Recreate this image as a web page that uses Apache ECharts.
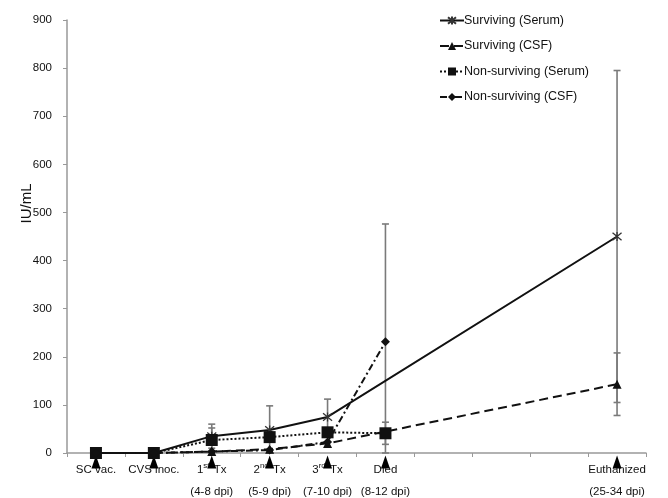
<!DOCTYPE html>
<html>
<head>
<meta charset="utf-8">
<script src="https://cdn.jsdelivr.net/npm/echarts@6/dist/echarts.min.js"></script>
<style>html,body{margin:0;padding:0;background:#fff}#c{width:668px;height:498px}</style>
</head>
<body>
<div id="c"></div>
<script>
// Category labels (rich-text markup for superscripts)
var categories = ['SC vac.', 'CVS inoc.', '1{sup|st} Tx\n(4-8 dpi)', '2{sup|nd} Tx\n(5-9 dpi)', '3{sup|rd} Tx\n(7-10 dpi)', 'Died\n(8-12 dpi)', ' ', '  ', '   ', 'Euthanized\n(25-34 dpi)'];
var yTicks = [0, 100, 200, 300, 400, 500, 600, 700, 800, 900];

var survSerum    = [0, 0, 35, 48, 75, null, null, null, null, 450];
var survSerumErr = [0, 0, 25, 50, 37, 0, 0, 0, 0, 345];
var survCSF      = [0, 0, 3, 8, 20, null, null, null, null, 143];
var survCSFErr   = [0, 0, 0, 0, 0, 0, 0, 0, 0, 65];
var nonSerum     = [0, 0, 27, 33, 43, 41, null, null, null, null];
var nonSerumErr  = [0, 0, 25, 0, 0, 23, 0, 0, 0, 0];
var nonCSF       = [0, 0, 3, 6, 23, 231, null, null, null, null];
var nonCSFErr    = [0, 0, 0, 0, 0, 245, 0, 0, 0, 0];
var events       = [0, 0, 0, 0, 0, 0, null, null, null, 0];

var seriesNames = ['Surviving (Serum)', 'Surviving (CSF)', 'Non-surviving (Serum)', 'Non-surviving (CSF)'];

function errData(vals, errs) {
  var out = [];
  for (var i = 0; i < vals.length; i++) {
    if (vals[i] != null && errs[i] > 0) out.push([i, Math.max(0, vals[i] - errs[i]), vals[i] + errs[i]]);
  }
  return out;
}
var allErr = [].concat(errData(survSerum, survSerumErr), errData(survCSF, survCSFErr),
                       errData(nonSerum, nonSerumErr), errData(nonCSF, nonCSFErr));

var chart = echarts.init(document.getElementById('c'), null, {renderer: 'canvas'});
var black = '#111';
var starPath = 'path://M0,0L10,10M10,0L0,10M5,-1L5,11';

chart.setOption({
  animation: false,
  textStyle: {fontFamily: 'Liberation Sans, Arial, sans-serif'},
  grid: {left: 67, right: 22, top: 20, bottom: 45, outerBoundsMode: 'none', containLabel: false},
  legend: {
    orient: 'vertical', left: 434, top: 9, itemGap: 12.5, itemWidth: 24, itemHeight: 10,
    textStyle: {fontSize: 12.5, color: '#111', padding: [0, 0, 0, -5]},
    data: seriesNames
  },
  xAxis: {
    type: 'category', data: categories, boundaryGap: true,
    axisLine: {lineStyle: {color: '#999', width: 1.5}},
    axisTick: {show: true, length: 4, inside: false, lineStyle: {color: '#999'}},
    axisLabel: {
      interval: 0, margin: 6, fontSize: 11.5, color: '#111', lineHeight: 22,
      rich: {sup: {fontSize: 8, lineHeight: 10, verticalAlign: 'top', padding: [3, 1, 0, 0]}}
    }
  },
  yAxis: {
    type: 'value', min: yTicks[0], max: yTicks[yTicks.length - 1], interval: 100,
    name: 'IU/mL', nameLocation: 'middle', nameGap: 33, nameRotate: 90, nameMoveOverlap: false,
    nameTextStyle: {fontSize: 15, color: '#111', padding: [0, 0, 0, 66]},
    splitLine: {show: false},
    axisLine: {show: true, lineStyle: {color: '#999', width: 1.5}},
    axisTick: {show: true, length: 4, lineStyle: {color: '#999'}},
    axisLabel: {fontSize: 11.5, color: '#111', margin: 15}
  },
  series: [
    {
      type: 'custom', name: 'err', z: 1, silent: true,
      encode: {x: 0, y: [1, 2]},
      data: allErr,
      renderItem: function (params, api) {
        var x = api.value(0);
        var lo = api.coord([x, api.value(1)]);
        var hi = api.coord([x, api.value(2)]);
        var w = 3.5;
        var st = {stroke: '#7a7a7a', lineWidth: 1.6};
        return {type: 'group', children: [
          {type: 'line', shape: {x1: lo[0], y1: lo[1], x2: hi[0], y2: hi[1]}, style: st},
          {type: 'line', shape: {x1: hi[0] - w, y1: hi[1], x2: hi[0] + w, y2: hi[1]}, style: st},
          {type: 'line', shape: {x1: lo[0] - w, y1: lo[1], x2: lo[0] + w, y2: lo[1]}, style: st}
        ]};
      }
    },
    {
      type: 'scatter', name: 'events', z: 3, silent: true, clip: false,
      data: events, symbol: 'triangle', symbolSize: [9, 13], symbolOffset: [0, 9],
      itemStyle: {color: '#000', opacity: 1}
    },
    {
      type: 'line', name: seriesNames[0], data: survSerum, connectNulls: true, z: 4,
      symbol: starPath, symbolSize: 9, showAllSymbol: true,
      lineStyle: {color: black, width: 2, type: 'solid'},
      itemStyle: {color: 'rgba(0,0,0,0)', borderColor: '#333', borderWidth: 1.3}
    },
    {
      type: 'line', name: seriesNames[1], data: survCSF, connectNulls: true, z: 4,
      symbol: 'triangle', symbolSize: 9, showAllSymbol: true,
      lineStyle: {color: black, width: 2, type: [9, 5]},
      itemStyle: {color: black}
    },
    {
      type: 'line', name: seriesNames[2], data: nonSerum, connectNulls: false, z: 4,
      symbol: 'rect', symbolSize: 12, showAllSymbol: true,
      lineStyle: {color: black, width: 2, type: [2, 2]},
      itemStyle: {color: black}
    },
    {
      type: 'line', name: seriesNames[3], data: nonCSF, connectNulls: false, z: 4,
      symbol: 'diamond', symbolSize: 9, showAllSymbol: true,
      lineStyle: {color: black, width: 2, type: [7, 3, 2, 3]},
      itemStyle: {color: black}
    }
  ]
});
</script>
</body>
</html>
